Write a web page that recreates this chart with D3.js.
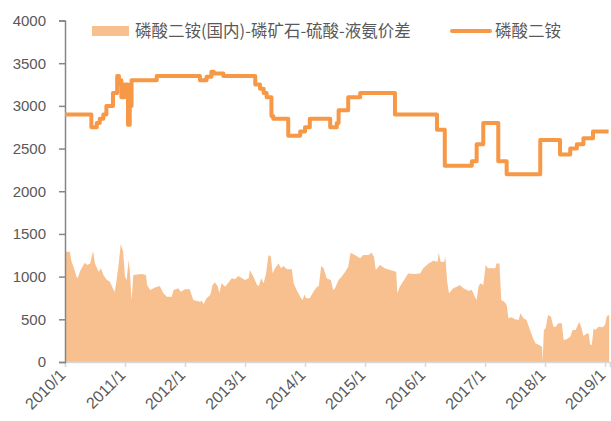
<!DOCTYPE html>
<html>
<head>
<meta charset="utf-8">
<script src="https://cdn.jsdelivr.net/npm/d3@7"></script>
<style>
  body { margin: 0; background: #fff; }
  svg text { fill: #595959; }
</style>
</head>
<body>
<div class="chart"></div>
<script>
// series names
const seriesNames = ["磷酸二铵(国内)-磷矿石-硫酸-液氨价差", "磷酸二铵"];

// spread series (area) - time as decimal year, value in 元/吨
const spreadTimes = [
  2010.00, 2010.08, 2010.11, 2010.15, 2010.20, 2010.22, 2010.26, 2010.33, 2010.37, 2010.42,
  2010.46, 2010.47, 2010.50, 2010.56, 2010.60, 2010.64, 2010.70, 2010.75, 2010.81, 2010.83,
  2010.86, 2010.89, 2010.93, 2010.97, 2011.00, 2011.03, 2011.06, 2011.08, 2011.11, 2011.14,
  2011.28, 2011.35, 2011.37, 2011.42, 2011.50, 2011.58, 2011.64, 2011.70, 2011.78, 2011.81,
  2011.89, 2011.93, 2012.00, 2012.08, 2012.14, 2012.25, 2012.28, 2012.31, 2012.36, 2012.42,
  2012.46, 2012.50, 2012.55, 2012.57, 2012.61, 2012.67, 2012.72, 2012.78, 2012.83, 2012.89,
  2012.95, 2013.00, 2013.06, 2013.08, 2013.14, 2013.20, 2013.23, 2013.27, 2013.31, 2013.35,
  2013.39, 2013.43, 2013.46, 2013.50, 2013.56, 2013.60, 2013.64, 2013.70, 2013.78, 2013.81,
  2013.86, 2013.92, 2013.96, 2013.99, 2014.02, 2014.08, 2014.14, 2014.20, 2014.23, 2014.27,
  2014.31, 2014.36, 2014.43, 2014.47, 2014.50, 2014.56, 2014.61, 2014.67, 2014.72, 2014.76,
  2014.83, 2014.92, 2014.97, 2015.06, 2015.11, 2015.15, 2015.18, 2015.25, 2015.33, 2015.42,
  2015.52, 2015.54, 2015.58, 2015.67, 2015.72, 2015.81, 2015.92, 2015.97, 2016.06, 2016.14,
  2016.21, 2016.23, 2016.26, 2016.32, 2016.34, 2016.37, 2016.40, 2016.47, 2016.53, 2016.58,
  2016.64, 2016.72, 2016.78, 2016.83, 2016.86, 2016.89, 2016.92, 2016.97, 2017.01, 2017.05,
  2017.17, 2017.19, 2017.24, 2017.27, 2017.32, 2017.36, 2017.39, 2017.44, 2017.50, 2017.56,
  2017.59, 2017.64, 2017.69, 2017.75, 2017.80, 2017.84, 2017.90, 2017.95, 2017.96, 2017.98,
  2018.01, 2018.05, 2018.10, 2018.14, 2018.18, 2018.22, 2018.28, 2018.31, 2018.36, 2018.42,
  2018.46, 2018.51, 2018.57, 2018.61, 2018.64, 2018.70, 2018.73, 2018.75, 2018.78, 2018.81,
  2018.84, 2018.89, 2018.96, 2019.00, 2019.03, 2019.07
];
const spreadValues = [
  1290, 1290, 1175, 1097, 980, 1000, 1077, 1163, 1136, 1155,
  1280, 1292, 1155, 1058, 1097, 1019, 960, 941, 843, 824,
  960, 1116, 1382, 1292, 1000, 960, 1194, 1077, 726, 1019,
  1030, 1019, 902, 843, 874, 890, 804, 765, 765, 843,
  863, 824, 851, 851, 726, 707, 718, 679, 746, 785,
  902, 933, 882, 804, 921, 882, 929, 980, 968, 1007,
  980, 960, 980, 1077, 1000, 902, 890, 980, 921, 1038,
  1253, 1233, 1038, 1097, 1155, 1097, 1124, 1085, 1085, 921,
  843, 765, 726, 792, 746, 746, 824, 882, 890, 1124,
  1097, 980, 960, 843, 863, 960, 1000, 1058, 1116, 1280,
  1253, 1214, 1253, 1253, 1280, 1233, 1077, 1136, 1097, 1077,
  1058, 804, 882, 980, 1038, 1030, 1038, 1097, 1155, 1186,
  1175, 1280, 1175, 1175, 1233, 941, 804, 863, 882, 902,
  863, 835, 843, 765, 726, 882, 921, 902, 1136, 1097,
  1097, 1155, 1155, 726, 707, 668, 512, 523, 500, 492,
  570, 512, 492, 375, 277, 219, 199, 180, 5, 375,
  394, 550, 531, 414, 414, 453, 453, 258, 266, 297,
  375, 375, 472, 394, 305, 336, 328, 207, 199, 394,
  375, 414, 406, 433, 538, 550
];

// DAP price series (step line)
const dapTimes = [
  2010.00, 2010.44, 2010.53, 2010.58, 2010.64, 2010.69, 2010.80, 2010.87, 2010.90, 2010.92,
  2010.94, 2010.99, 2011.05, 2011.08, 2011.11, 2011.53, 2012.25, 2012.36, 2012.44, 2012.48,
  2012.64, 2013.17, 2013.25, 2013.31, 2013.36, 2013.44, 2013.47, 2013.72, 2013.92, 2014.00,
  2014.08, 2014.42, 2014.53, 2014.56, 2014.72, 2014.92, 2015.50, 2016.20, 2016.33, 2016.78,
  2016.86, 2016.97, 2017.22, 2017.36, 2017.92, 2018.25, 2018.42, 2018.53, 2018.64, 2018.80,
  2019.06
];
const dapValues = [
  2900, 2750, 2800, 2850, 2900, 3000, 3150, 3350, 3250, 3300,
  3100, 3250, 2780, 3000, 3300, 3350, 3300, 3340, 3400, 3380,
  3350, 3250, 3200, 3150, 3100, 2880, 2850, 2650, 2700, 2750,
  2850, 2750, 2800, 2950, 3100, 3150, 2900, 2720, 2300, 2350,
  2550, 2800, 2350, 2200, 2600, 2430, 2500, 2550, 2620, 2700,
  2700
];

// axis ticks
const yTicks = [0, 500, 1000, 1500, 2000, 2500, 3000, 3500, 4000];
const xTickYears = [2010, 2011, 2012, 2013, 2014, 2015, 2016, 2017, 2018, 2019];

const toDate = t => {
  const y = Math.floor(t);
  const a = Date.UTC(y, 0, 1), b = Date.UTC(y + 1, 0, 1);
  return new Date(a + (t - y) * (b - a));
};

const spread = spreadTimes.map((t, i) => ({ date: toDate(t), value: spreadValues[i] }));
const dap = dapTimes.map((t, i) => ({ date: toDate(t), value: dapValues[i] }));

const width = 611, height = 421;
const areaColor = "#F8C08F", lineColor = "#F79846";

const svg = d3.select(".chart")
  .append("svg")
  .attr("width", width)
  .attr("height", height);

const x = d3.scaleUtc()
  .domain([toDate(2010), toDate(2019.08)])
  .range([65, 65 + 9.08 * 60]);

const y = d3.scaleLinear()
  .domain([0, 4000])
  .range([362, 20.5]);

// area
const areaGen = d3.area()
  .x(d => x(d.date))
  .y0(y(0))
  .y1(d => y(d.value));

svg.append("path")
  .datum(spread)
  .attr("d", areaGen)
  .attr("fill", areaColor);

// x axis
const xAxis = svg.append("g")
  .attr("transform", "translate(0," + y(0) + ")")
  .call(d3.axisBottom(x)
    .tickValues(xTickYears.map(v => toDate(v)))
    .tickFormat(d3.utcFormat("%Y/%-m"))
    .tickSizeOuter(0)
    .tickSize(5));
xAxis.select(".domain").attr("stroke", "#d9d9d9").attr("stroke-width", 1.5);
xAxis.selectAll(".tick line").attr("stroke", "#d9d9d9").attr("stroke-width", 1.5);
xAxis.selectAll(".tick text")
  .attr("font-family", "'Liberation Sans', Arial, sans-serif")
  .attr("font-size", "16px")
  .attr("text-anchor", "end")
  .attr("dy", "0.35em")
  .attr("x", 0)
  .attr("y", 0)
  .attr("transform", "translate(-3,10) rotate(-45)");

// y axis
const yAxis = svg.append("g")
  .attr("transform", "translate(65,0)")
  .call(d3.axisLeft(y)
    .tickValues(yTicks)
    .tickFormat(d3.format("d"))
    .tickSizeOuter(0)
    .tickSize(6)
    .tickPadding(13));
yAxis.select(".domain").attr("stroke", "#868686").attr("stroke-width", 1.5);
yAxis.selectAll(".tick line").attr("stroke", "#868686").attr("stroke-width", 1.5);
yAxis.selectAll(".tick text")
  .attr("font-family", "'Liberation Sans', Arial, sans-serif")
  .attr("font-size", "15px");

// step line
const lineGen = d3.line()
  .x(d => x(d.date))
  .y(d => y(d.value))
  .curve(d3.curveStepAfter);

svg.append("path")
  .datum(dap)
  .attr("d", lineGen)
  .attr("fill", "none")
  .attr("stroke", lineColor)
  .attr("stroke-width", 4)
  .attr("stroke-linejoin", "round");

// legend
const legend = svg.append("g")
  .attr("font-family", "'Noto Sans CJK SC', sans-serif")
  .attr("font-size", "16.5px");

legend.append("rect")
  .attr("x", 92).attr("y", 26)
  .attr("width", 37).attr("height", 10)
  .attr("fill", areaColor);
legend.append("text")
  .attr("x", 135).attr("y", 31)
  .attr("dy", "0.35em")
  .text(seriesNames[0]);

legend.append("line")
  .attr("x1", 452).attr("x2", 490)
  .attr("y1", 31).attr("y2", 31)
  .attr("stroke", lineColor)
  .attr("stroke-width", 4)
  .attr("stroke-linecap", "round");
legend.append("text")
  .attr("x", 495).attr("y", 31)
  .attr("dy", "0.35em")
  .text(seriesNames[1]);
</script>
</body>
</html>
